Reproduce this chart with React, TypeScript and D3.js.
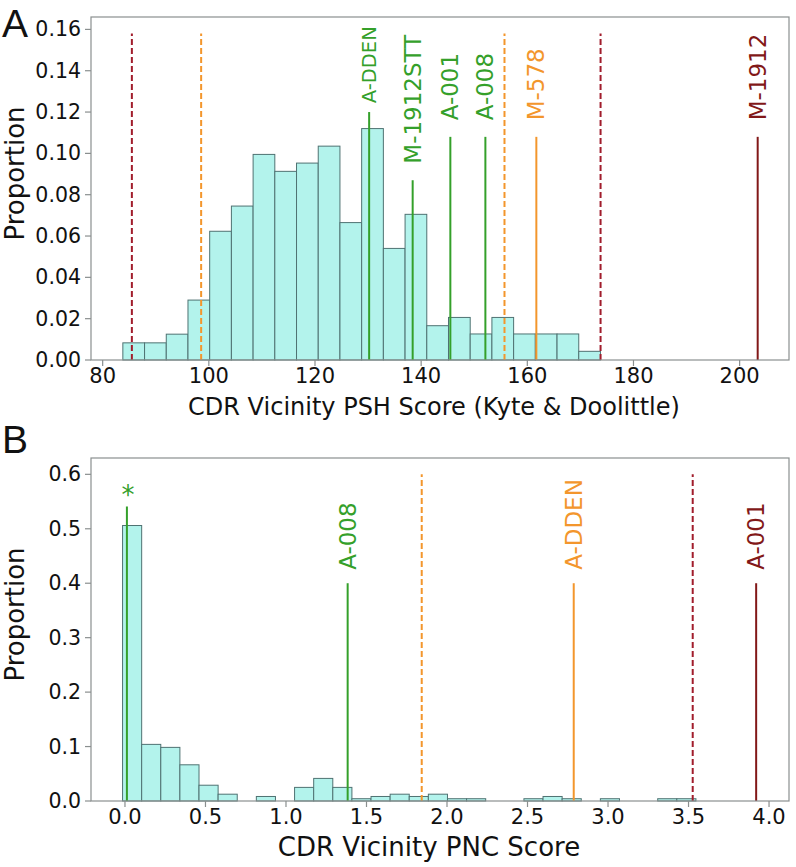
import React from "react";
import * as d3 from "d3";

// ---------- Data ----------
// Panel A: CDR Vicinity PSH Score histogram (proportion per bin)
const pshBinStart = 83.8;
const pshBinWidth = 4.09;
const pshProportions = [
  0.0083, 0.0083, 0.0125, 0.029, 0.0623, 0.0745, 0.0995, 0.0913, 0.0953, 0.1035, 0.0665,
  0.112, 0.054, 0.0705, 0.0166, 0.0206, 0.0126, 0.0206, 0.0126, 0.0126, 0.0126, 0.0042,
];
const pshThresholds = [
  { x: 85.5, kind: "red" },
  { x: 98.55, kind: "orange" },
  { x: 155.7, kind: "orange" },
  { x: 173.8, kind: "red" },
];
const pshMarkers = [
  { name: "A-DDEN", x: 130.2, top: 0.12, labelY: 0.1243, kind: "green", small: true },
  { name: "M-1912STT", x: 138.4, top: 0.087, labelY: 0.095, kind: "green", small: false },
  { name: "A-001", x: 145.5, top: 0.108, labelY: 0.116, kind: "green", small: false },
  { name: "A-008", x: 152.1, top: 0.108, labelY: 0.116, kind: "green", small: false },
  { name: "M-578", x: 161.7, top: 0.108, labelY: 0.116, kind: "orange", small: false },
  { name: "M-1912", x: 203.4, top: 0.108, labelY: 0.116, kind: "darkred", small: false },
];
const pshXTicks = [80, 100, 120, 140, 160, 180, 200];
const pshYTicks = [0, 0.02, 0.04, 0.06, 0.08, 0.1, 0.12, 0.14, 0.16];

// Panel B: CDR Vicinity PNC Score histogram
const pncBinStart = -0.015;
const pncBinWidth = 0.1187;
const pncProportions = [
  0.506, 0.104, 0.0985, 0.0665, 0.029, 0.0125, 0, 0.0083, 0, 0.025, 0.0415, 0.025, 0.0042,
  0.0083, 0.0125, 0.0083, 0.0125, 0.0042, 0.0042, 0, 0, 0.0042, 0.0083, 0.0042, 0, 0.0042,
  0, 0, 0.0042, 0.0042,
];
const pncThresholds = [
  { x: 1.843, kind: "orange" },
  { x: 3.526, kind: "red" },
];
const pncMarkers = [
  { name: "*", x: 0.012, top: 0.541, labelY: 0.57, kind: "green", small: false },
  { name: "A-008", x: 1.383, top: 0.4, labelY: 0.4246, kind: "green", small: false },
  { name: "A-DDEN", x: 2.787, top: 0.4, labelY: 0.4246, kind: "orange", small: false },
  { name: "A-001", x: 3.92, top: 0.4, labelY: 0.4246, kind: "darkred", small: false },
];
const pncXTicks = [0, 0.5, 1, 1.5, 2, 2.5, 3, 3.5, 4];
const pncYTicks = [0, 0.1, 0.2, 0.3, 0.4, 0.5, 0.6];

// ---------- Styles ----------
const COLORS: Record<string, string> = {
  green: "#34a02a",
  orange: "#f3962c",
  darkred: "#821818",
  red: "#a11d2c",
};
const BAR_FILL = "#b3f3ec";
const BAR_STROKE = "#4f7272";
const FRAME = "#8a8f8f";
const FONT = "DejaVu Sans, Verdana, sans-serif";

type Marker = { name: string; x: number; top: number; labelY: number; kind: string; small: boolean };
type Thresh = { x: number; kind: string };

function Panel(props: {
  top: number;
  letter: string;
  letterY: number;
  xDomain: [number, number];
  yMax: number;
  binStart: number;
  binWidth: number;
  props: number[];
  thresholds: Thresh[];
  threshTop: number;
  markers: Marker[];
  xTicks: number[];
  yTicks: number[];
  xFmt: (v: number) => string;
  yFmt: (v: number) => string;
  xTitle: string;
  xTitleSize: number;
  xTitleX: number;
}) {
  const left = 91;
  const right = 789;
  const top = props.top;
  const bottom = top + 343;
  const x = d3.scaleLinear().domain(props.xDomain).range([left, right]);
  const y = d3.scaleLinear().domain([0, props.yMax]).range([bottom, top]);
  const cy = (top + bottom) / 2;
  return (
    <g>
      {/* bars */}
      {props.props.map((p, i) => {
        if (p <= 0) return null;
        const x0 = props.binStart + i * props.binWidth;
        const x1 = x0 + props.binWidth;
        return (
          <rect
            key={i}
            x={x(x0)}
            y={y(p)}
            width={x(x1) - x(x0)}
            height={y(0) - y(p)}
            fill={BAR_FILL}
            stroke={BAR_STROKE}
            strokeWidth={1}
          />
        );
      })}
      {/* thresholds */}
      {props.thresholds.map((t, i) => (
        <line
          key={"t" + i}
          x1={x(t.x)}
          x2={x(t.x)}
          y1={y(0)}
          y2={y(props.threshTop)}
          stroke={COLORS[t.kind]}
          strokeWidth={2}
          strokeDasharray="6,3"
        />
      ))}
      {/* markers */}
      {props.markers.map((m, i) => (
        <g key={"m" + i}>
          <line x1={x(m.x)} x2={x(m.x)} y1={y(0)} y2={y(m.top)} stroke={COLORS[m.kind]} strokeWidth={2} />
          {m.name === "*" ? (
            <text
              x={x(m.x) + 1}
              y={y(m.labelY) + 13}
              fontFamily={FONT}
              fontSize={26}
              fill={COLORS[m.kind]}
              textAnchor="middle"
            >
              *
            </text>
          ) : (
            <text
              transform={`translate(${x(m.x)},${y(m.labelY)}) rotate(-90)`}
              fontFamily={FONT}
              fontSize={m.small ? 19.5 : 23}
              fill={COLORS[m.kind]}
              textAnchor="start"
              dominantBaseline="central"
            >
              {m.name}
            </text>
          )}
        </g>
      ))}
      {/* frame */}
      <rect x={left} y={top} width={right - left} height={bottom - top} fill="none" stroke={FRAME} strokeWidth={1.2} />
      {/* x ticks */}
      {props.xTicks.map((t, i) => (
        <g key={"xt" + i}>
          <line x1={x(t)} x2={x(t)} y1={bottom} y2={bottom + 6} stroke={FRAME} strokeWidth={1.2} />
          <text x={x(t)} y={bottom + 23} textAnchor="middle" fontFamily={FONT} fontSize={21} fill="#111">
            {props.xFmt(t)}
          </text>
        </g>
      ))}
      {/* y ticks */}
      {props.yTicks.map((t, i) => (
        <g key={"yt" + i}>
          <line x1={left - 6} x2={left} y1={y(t)} y2={y(t)} stroke={FRAME} strokeWidth={1.2} />
          <text
            x={left - 10}
            y={y(t)}
            textAnchor="end"
            dominantBaseline="central"
            fontFamily={FONT}
            fontSize={20.5}
            fill="#111"
          >
            {props.yFmt(t)}
          </text>
        </g>
      ))}
      {/* axis titles */}
      <text
        x={props.xTitleX}
        y={bottom + 55}
        textAnchor="middle"
        fontFamily={FONT}
        fontSize={props.xTitleSize}
        fill="#111"
      >
        {props.xTitle}
      </text>
      <text
        transform={`translate(15,${cy - 15}) rotate(-90)`}
        textAnchor="middle"
        dominantBaseline="central"
        fontFamily={FONT}
        fontSize={26}
        fill="#111"
      >
        Proportion
      </text>
      {/* panel letter */}
      <text x={2} y={props.letterY} fontFamily="Liberation Sans, Arial, sans-serif" fontSize={39} fill="#111">
        {props.letter}
      </text>
    </g>
  );
}

export default function App() {
  return (
    <svg
      width={796}
      height={867}
      style={{ position: "absolute", left: 0, top: 0, background: "#fff" }}
      xmlns="http://www.w3.org/2000/svg"
    >
      <rect x={0} y={0} width={796} height={867} fill="#fff" />
      <Panel
        top={17}
        letter="A"
        letterY={37}
        xDomain={[77.8, 209.3]}
        yMax={0.166}
        binStart={pshBinStart}
        binWidth={pshBinWidth}
        props={pshProportions}
        thresholds={pshThresholds}
        threshTop={0.158}
        markers={pshMarkers}
        xTicks={pshXTicks}
        yTicks={pshYTicks}
        xFmt={d3.format("d")}
        yFmt={d3.format(".2f")}
        xTitle="CDR Vicinity PSH Score (Kyte & Doolittle)"
        xTitleSize={24}
        xTitleX={434}
      />
      <Panel
        top={458}
        letter="B"
        letterY={453}
        xDomain={[-0.211, 4.124]}
        yMax={0.63}
        binStart={pncBinStart}
        binWidth={pncBinWidth}
        props={pncProportions}
        thresholds={pncThresholds}
        threshTop={0.6}
        markers={pncMarkers}
        xTicks={pncXTicks}
        yTicks={pncYTicks}
        xFmt={d3.format(".1f")}
        yFmt={d3.format(".1f")}
        xTitle="CDR Vicinity PNC Score"
        xTitleSize={26}
        xTitleX={429}
      />
    </svg>
  );
}
